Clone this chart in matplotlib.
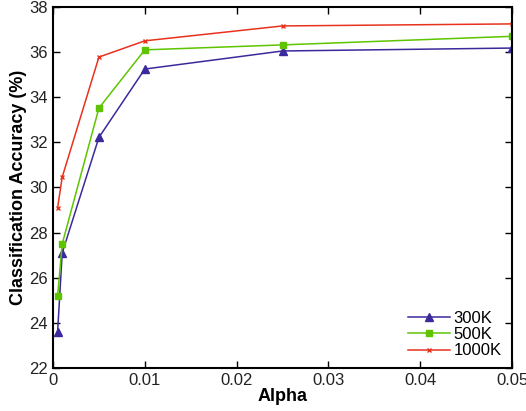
import matplotlib
matplotlib.use("Agg")
import matplotlib.pyplot as plt

plt.rcParams['font.family'] = ['Liberation Sans', 'DejaVu Sans']

alpha = [0.0005, 0.001, 0.005, 0.01, 0.025, 0.05]
acc_300k = [23.6, 27.1, 32.22, 35.25, 36.05, 36.18]
acc_500k = [25.2, 27.5, 33.52, 36.1, 36.32, 36.7]
acc_1000k = [29.1, 30.46, 35.78, 36.5, 37.16, 37.25]
labels = ["300K", "500K", "1000K"]

fig = plt.figure(figsize=(5.26, 4.11), dpi=100)
ax = fig.add_axes([0.1008, 0.1046, 0.8726, 0.8784])

ax.plot(alpha, acc_300k, color='#3a2a9c', marker='^', markersize=5.5, linewidth=1.1, label=labels[0])
ax.plot(alpha, acc_500k, color='#5ec400', marker='s', markersize=4, linewidth=1.1, label=labels[1])
ax.plot(alpha, acc_1000k, color='#e8321e', marker='x', markersize=3, markeredgewidth=1.0, linewidth=1.1, label=labels[2])

ax.set_xlim(0, 0.05)
ax.set_ylim(22, 38)
ax.set_xticks([0, 0.01, 0.02, 0.03, 0.04, 0.05])
ax.set_xticklabels(["0", "0.01", "0.02", "0.03", "0.04", "0.05"])
ax.set_yticks(range(22, 39, 2))
ax.tick_params(direction='in', top=True, right=True, labelsize=12, length=5, width=1, labelcolor='#222222')
for s in ax.spines.values():
    s.set_linewidth(1.5)

ax.set_xlabel("Alpha", fontsize=13, fontweight='bold', labelpad=0)
ax.set_ylabel("Classification Accuracy (%)", fontsize=13, fontweight='bold', labelpad=2)

ax.legend(loc='lower right', bbox_to_anchor=(1.01, -0.015), frameon=False, fontsize=12,
          handlelength=2.5, handletextpad=0.2, labelspacing=0.08)

fig.savefig("out.png", dpi=100)
